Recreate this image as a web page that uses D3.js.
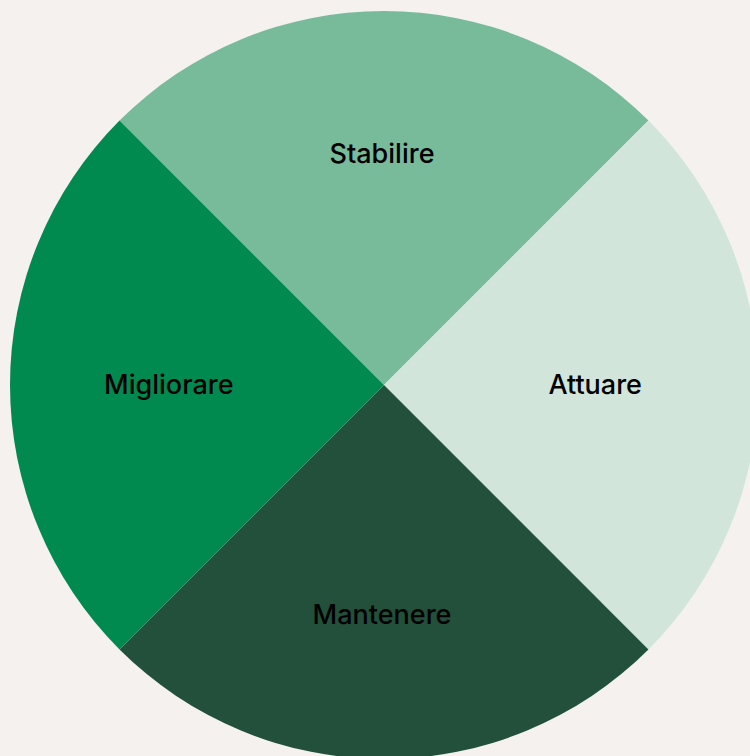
<!DOCTYPE html>
<html><head><meta charset="utf-8">
<script src="https://cdn.jsdelivr.net/npm/d3@7"></script>
<style>html,body{margin:0;padding:0;background:#F4F1EE;}svg{display:block;}</style>
</head><body>
<script>
const categories = ["Stabilire", "Attuare", "Mantenere", "Migliorare"];
const values = [25, 25, 25, 25];
const colors = ["#78BB9B", "#D1E5DA", "#22503A", "#008A50"];

const W = 750, H = 756;
const cx = 384, cy = 385, R = 374;
const svg = d3.select("body").append("svg").attr("width", W).attr("height", H);
svg.append("rect").attr("width", W).attr("height", H).attr("fill", "#F4F1EE");
const g = svg.append("g").attr("transform", `translate(${cx},${cy})`);
const data = categories.map((c, i) => ({cat: c, value: values[i], color: colors[i]}));
const pie = d3.pie().value(d => d.value).sort(null).startAngle(-Math.PI / 4).endAngle(2 * Math.PI - Math.PI / 4);
const arc = d3.arc().innerRadius(0).outerRadius(R);
const arcs = pie(data);
g.selectAll("path").data(arcs).enter().append("path")
  .attr("d", arc).attr("fill", d => d.data.color);
g.append("g").attr("transform", "translate(-2,-1)")
  .selectAll("text").data(arcs).enter().append("text")
  .attr("x", d => Math.sin((d.startAngle + d.endAngle) / 2) * R * 0.57)
  .attr("y", d => -Math.cos((d.startAngle + d.endAngle) / 2) * R * 0.617)
  .attr("text-anchor", "middle").attr("dominant-baseline", "central")
  .attr("font-family", "Inter, sans-serif").attr("font-size", 27).attr("font-weight", 500)
  .attr("fill", "#000").text(d => d.data.cat);
</script>
</body></html>
